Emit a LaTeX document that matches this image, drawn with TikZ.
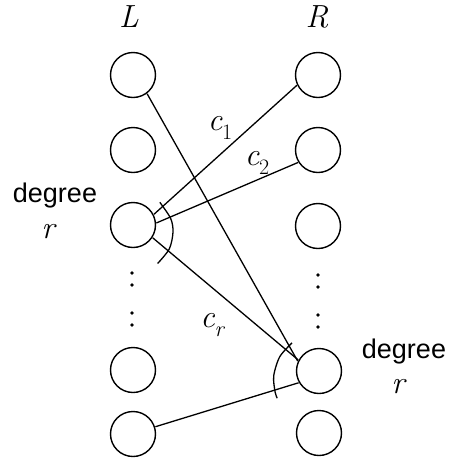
\documentclass[tikz,border=0pt]{standalone}
\usepackage{fontspec}
\newfontfamily\labelsans{Liberation Sans}
\newcommand\subsc[1]{\raisebox{-0.28em}{\fontsize{22}{24}\selectfont #1}}
\begin{document}
\begin{tikzpicture}[x=1pt,y=-1pt,
  vert/.style={circle,draw,line width=1.4pt,minimum size=45pt,inner sep=0pt,outer sep=1pt},
  edge/.style={line width=1.3pt},
  anglemark/.style={line width=1.3pt},
  mlab/.style={inner sep=0pt,font=\fontsize{32}{34}\selectfont\itshape},
  slab/.style={inner sep=0pt,font=\labelsans\fontsize{27}{30}\selectfont},
  dotc/.style={fill=black}]
\useasboundingbox (0,0) rectangle (450,459);
% left column
\node[vert] (L1) at (133,75) {};
\node[vert] (L2) at (133,150) {};
\node[vert] (L3) at (133,225) {};
\node[vert] (L5) at (133,370) {};
\node[vert] (L6) at (133,434) {};
% right column
\node[vert] (R1) at (318,75) {};
\node[vert] (R2) at (318,150) {};
\node[vert] (R3) at (318,226) {};
\node[vert] (R5) at (319,371) {};
\node[vert] (R6) at (319,433) {};
% dots
\foreach \y in {273,285,313,325} \fill[dotc] (132,\y) circle (1.8);
\foreach \y in {275,287,315,327} \fill[dotc] (318,\y) circle (1.8);
% column labels
\node[mlab] (Ltxt) at (129,17) {L};
\node[mlab] (Rtxt) at (317,17) {R};
% edges
\draw[edge] (L1.-53) -- (R5.155);
\draw[edge] (L3.27) -- (R1.-154);
\draw[edge] (L3.5) -- (R2.-148);
\draw[edge] (L3.-33) -- (R5.152);
\draw[edge] (L6.18) -- (R5.-150);
% angle marks
\draw[anglemark] plot[smooth] coordinates {(159.8,202.3) (170.6,218.3) (173,232) (169.3,248.9) (157.6,263.5)};
\draw[anglemark] plot[smooth] coordinates {(292,342.9) (279.7,356.8) (273.7,376) (275.1,392) (277.2,398.2)};
% edge labels
\node[mlab] (c1) at (220,128) {c\subsc{\upshape 1}};
\node[mlab] (c2) at (257,163) {c\subsc{\upshape 2}};
\node[mlab] (cr) at (212,325) {c\subsc{r}};
% degree labels
\node[slab] (degL) at (55,196) {degree};
\node[mlab] (rL) at (48,232) {r};
\node[slab] (degR) at (404,352) {degree};
\node[mlab] (rR) at (398,387) {r};
\end{tikzpicture}
\end{document}
